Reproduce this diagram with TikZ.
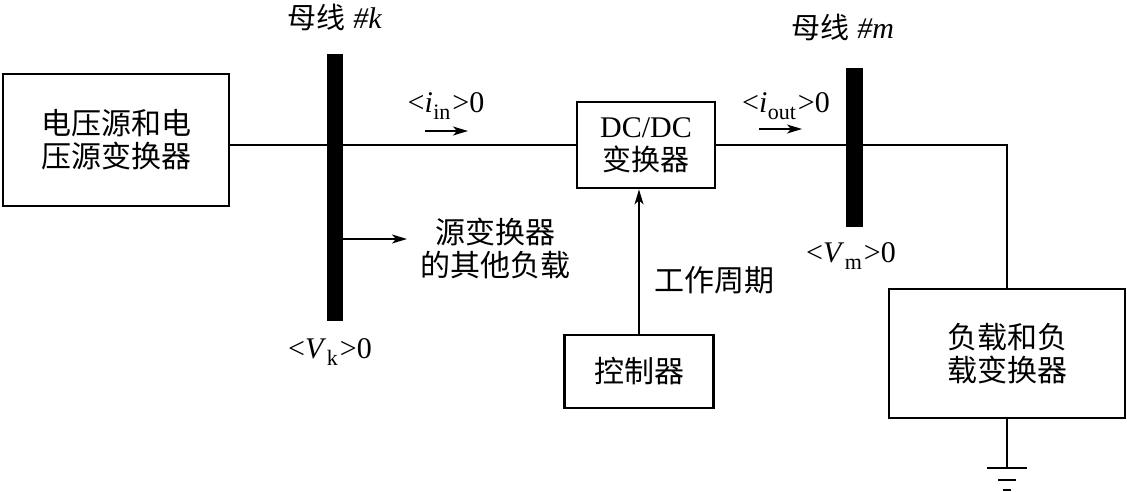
\documentclass[tikz,border=0pt]{standalone}
\usepackage{fontspec}
\setmainfont{Liberation Serif}
\newfontfamily\cjk{Noto Sans CJK SC}
\usetikzlibrary{arrows.meta}
\newcommand\lsub[1]{\kern0.5pt\raisebox{-0.22em}{\fontsize{22}{22}\selectfont #1}\kern2pt}
\newcommand\zhs{\cjk\fontsize{29}{33}\selectfont}
\begin{document}
\begin{tikzpicture}[x=1pt,y=-1pt,
  zhfont/.style={font=\cjk\fontsize{30}{33}\selectfont},
  enfont/.style={font=\fontsize{30}{33}\selectfont},
  blk/.style n args={2}{draw,line width=2.8pt,minimum width=#1,minimum height=#2,inner sep=0pt,align=center},
  busbar/.style n args={2}{fill=black,draw=none,minimum width=#1,minimum height=#2,inner sep=0pt},
  conn/.style={line width=1.4pt},
  tip/.style={-{Stealth[length=15pt,width=9pt,inset=4pt]}},
  gndbar/.style={line width=2.8pt}]
\useasboundingbox (0,0) rectangle (1127,491);

% blocks
\node[blk={226pt}{132pt},zhfont] (src) at (116,140) {电压源和电\\压源变换器};
\node[blk={138pt}{86pt},enfont] (dcdc) at (646,145) {DC/DC\\{\zhs 变换器}};
\node[blk={149pt}{73pt},zhfont] (ctrl) at (639,371.5) {控制器};
\node[blk={236pt}{129pt},zhfont] (load) at (1007,353.5) {负载和负\\载变换器};

% bus bars
\node[busbar={16pt}{267pt}] (busk) at (335,187.5) {};
\node[busbar={17pt}{159pt}] (busm) at (854.5,147.5) {};

% coordinates
\coordinate (corner) at (1007,145);
\coordinate (sidend) at (407,239);
\coordinate (gnd) at (1007,468);
\coordinate (iina) at (425,131);
\coordinate (iinb) at (468,131);
\coordinate (iouta) at (759,129);
\coordinate (ioutb) at (802,129);

% connectors
\draw[conn] (src.east |- dcdc.west) -- (dcdc.west);
\draw[conn] (dcdc.east) -- (corner) -- (load.north);
\draw[conn,tip] (ctrl.north) -- (ctrl.north |- dcdc.south);
\draw[conn,tip] (busk.east |- sidend) -- (sidend);
\draw[conn,tip] (iina) -- (iinb);
\draw[conn,tip] (iouta) -- (ioutb);
\draw[conn] (load.south) -- (gnd);
\draw[gndbar] ([xshift=-20pt]gnd) -- ([xshift=20pt]gnd);
\draw[gndbar] ([xshift=-9pt,yshift=-12pt]gnd) -- ([xshift=9pt,yshift=-12pt]gnd);
\draw[gndbar] ([xshift=-4pt,yshift=-22pt]gnd) -- ([xshift=4pt,yshift=-22pt]gnd);

% labels
\node[enfont] (tk) at (335,17) {{\zhs 母线} \textit{\#k}};
\node[enfont] (tm) at (843,27) {{\zhs 母线} \textit{\#m}};
\node[enfont] (iin) at (446,106) {<\textit{i}\lsub{in}>0};
\node[enfont] (iout) at (786,106) {<\textit{i}\lsub{out}>0};
\node[enfont] (vk) at (330,352) {<\textit{V}\lsub{k}>0};
\node[enfont] (vm) at (851,256) {<\textit{V}\lsub{m}>0};
\node[zhfont] (duty) at (714,280) {工作周期};
\node[zhfont,align=center] (other) at (495,248) {源变换器\\的其他负载};
\end{tikzpicture}
\end{document}
